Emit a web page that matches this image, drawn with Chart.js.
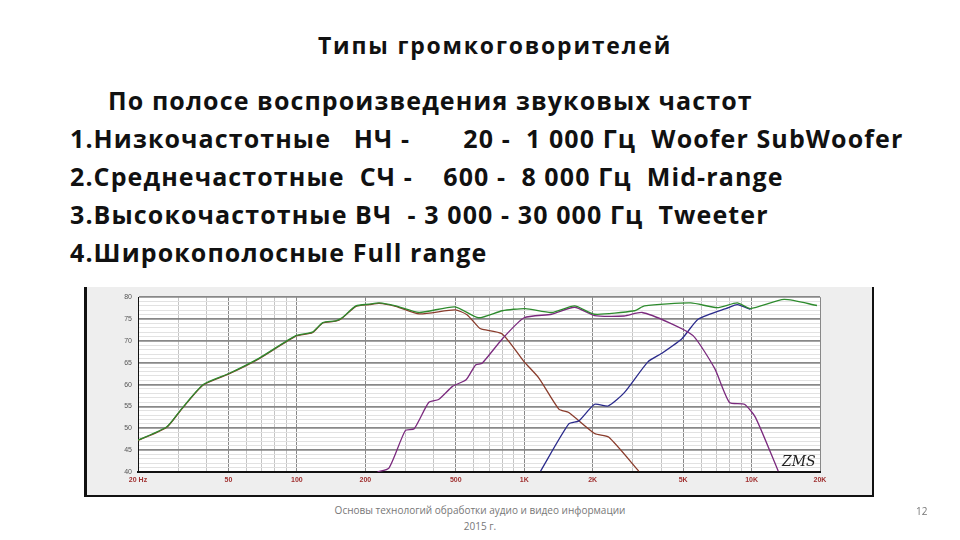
<!DOCTYPE html>
<html><head><meta charset="utf-8">
<script src="https://cdn.jsdelivr.net/npm/chart.js@4"></script>
<style>
body{margin:0;width:960px;height:540px;background:#fff;position:relative;font-family:"Open Sans","Noto Sans",sans-serif;overflow:hidden}
.t{position:absolute;white-space:pre;font-weight:bold;color:#111;font-size:25px;letter-spacing:1.1px}
#wrap{position:absolute;left:84px;top:287px;width:790px;height:210px;background:#eee;border-left:3px solid #111;border-bottom:2px solid #111;border-right:2px solid #111;box-sizing:border-box}
</style></head><body>
<div class="t" style="left:318px;top:29px;font-size:23px;letter-spacing:1.8px">Типы громкоговорителей</div>
<div class="t" style="left:108px;top:83px">По полосе воспроизведения звуковых частот</div>
<div class="t" style="left:70px;top:121px">1.Низкочастотные   НЧ -       20 -  1 000 Гц  Woofer SubWoofer</div>
<div class="t" style="left:70px;top:159px">2.Среднечастотные  СЧ -    600 -  8 000 Гц  Mid-range</div>
<div class="t" style="left:70px;top:197px">3.Высокочастотные ВЧ  - 3 000 - 30 000 Гц  Tweeter</div>
<div class="t" style="left:70px;top:235px">4.Широкополосные Full range</div>
<div id="wrap"><canvas id="c" width="785" height="208"></canvas></div>
<div style="position:absolute;left:300px;top:502px;width:360px;text-align:center;font-size:10px;color:#777;line-height:16px">Основы технологий обработки аудио и видео информации<br>2015 г.</div>
<div style="position:absolute;left:916px;top:504px;font-size:10px;color:#777">12</div>
<div style="position:absolute;left:782px;top:453px;font-size:14px;font-style:italic;font-family:'DejaVu Serif';color:#222">ZMS</div>
<script>
const fullF=[20,26.7,30.6,38.7,50.5,68,99,117,130,148,158,182,208,230,272,345,496,630,800,1011,1320,1665,2038,3060,3380,5400,7060,8650,9890,13900,19400];
const fullDb=[47.3,50.3,54,60,62.6,66,71.2,72,74.2,74.6,75.3,78,78.4,78.7,78,76.5,77.8,75.3,76.9,77.4,76.5,78,76.1,76.9,78,78.7,77.6,78.7,77.4,79.5,78.1];
const wooferF=[20,26.7,30.6,38.7,50.5,68,99,117,130,148,158,182,208,230,272,345,496,560,630,650,800,1000,1160,1420,1570,2040,2350,3190];
const wooferDb=[47.2,50.2,53.9,59.9,62.5,65.9,71.1,71.9,74.1,74.5,75.2,77.9,78.3,78.6,77.9,76.2,77.1,76,73.1,72.7,71.6,65.2,61.5,54.4,53.6,48.8,48,40.2];
const midF=[226,254,300,328,380,420,484,555,611,653,802,1000,1320,1665,2038,2750,3300,4330,5530,6880,8000,9300,10400,13100];
const midDb=[40,40.9,49.5,49.9,55.9,56.6,59.6,61.1,64.5,64.9,70.5,75.3,76.1,77.7,75.8,75.7,76.5,74.2,71.2,63.7,55.9,55.5,52.5,40.2];
const twF=[1180,1570,1740,2040,2340,2750,3500,4010,4940,5840,7920,8650,9890];
const twDb=[40.2,51,51.7,55.5,55.1,58.1,65.2,67.1,70.5,75,77.6,78.3,77.2];
const xTicks=[];[10,100,1000,10000].forEach(d=>{for(let k=1;k<10;k++){const v=d*k;if(v>=20&&v<=20000)xTicks.push(v);}});
const xLabels={20:'20 Hz',50:'50',100:'100',200:'200',500:'500',1000:'1K',2000:'2K',5000:'5K',10000:'10K',20000:'20K'};
const major=[20,50,100,200,500,1000,2000,5000,10000,20000];
const pts=(f,d)=>f.map((x,i)=>({x,y:d[i]}));
const ds=(f,d,c)=>({data:pts(f,d),borderColor:c,borderWidth:1.3,pointRadius:0,tension:0.2,fill:false});
new Chart(document.getElementById('c'),{type:'line',
data:{datasets:[ds(fullF,fullDb,'#2e8b2e'),ds(midF,midDb,'#7b2a7e'),ds(twF,twDb,'#2b2b8c'),ds(wooferF,wooferDb,'#8a3c2c')]},
options:{responsive:false,animation:false,layout:{padding:{top:8,right:52,left:0,bottom:0}},
plugins:{legend:{display:false},tooltip:{enabled:false}},
scales:{
x:{type:'logarithmic',min:20,max:20000,afterBuildTicks:s=>{s.ticks=xTicks.map(v=>({value:v}));},
 afterFit:s=>{s.height=23;},
 grid:{color:c=>major.includes(c.tick&&c.tick.value)?'#888':'#c4c4c4',lineWidth:1,drawTicks:false},
 border:{color:'#111',width:2},
 ticks:{autoSkip:false,maxRotation:0,color:'#a03030',font:{size:7,weight:'bold'},padding:4,callback:v=>xLabels[v]||''}},
y:{min:40,max:80,afterFit:s=>{s.width=51;},
 afterBuildTicks:s=>{const t=[];for(let v=40;v<=80;v++)t.push({value:v});s.ticks=t;},
 grid:{color:c=>c.tick&&c.tick.value%5===0?'#888':'#e2e2e2',lineWidth:c=>c.tick&&c.tick.value%5===0?1.8:1,drawTicks:false},
 border:{color:'#111',width:1},
 ticks:{autoSkip:false,color:'#555',font:{size:7},padding:6,callback:v=>v%5===0?String(v):''}}}},
plugins:[{id:'bg',beforeDraw:ch=>{const a=ch.chartArea,x=ch.ctx;x.save();x.fillStyle='#fff';x.fillRect(a.left,a.top,a.width,a.height);x.restore();}}]
});
</script></body></html>
